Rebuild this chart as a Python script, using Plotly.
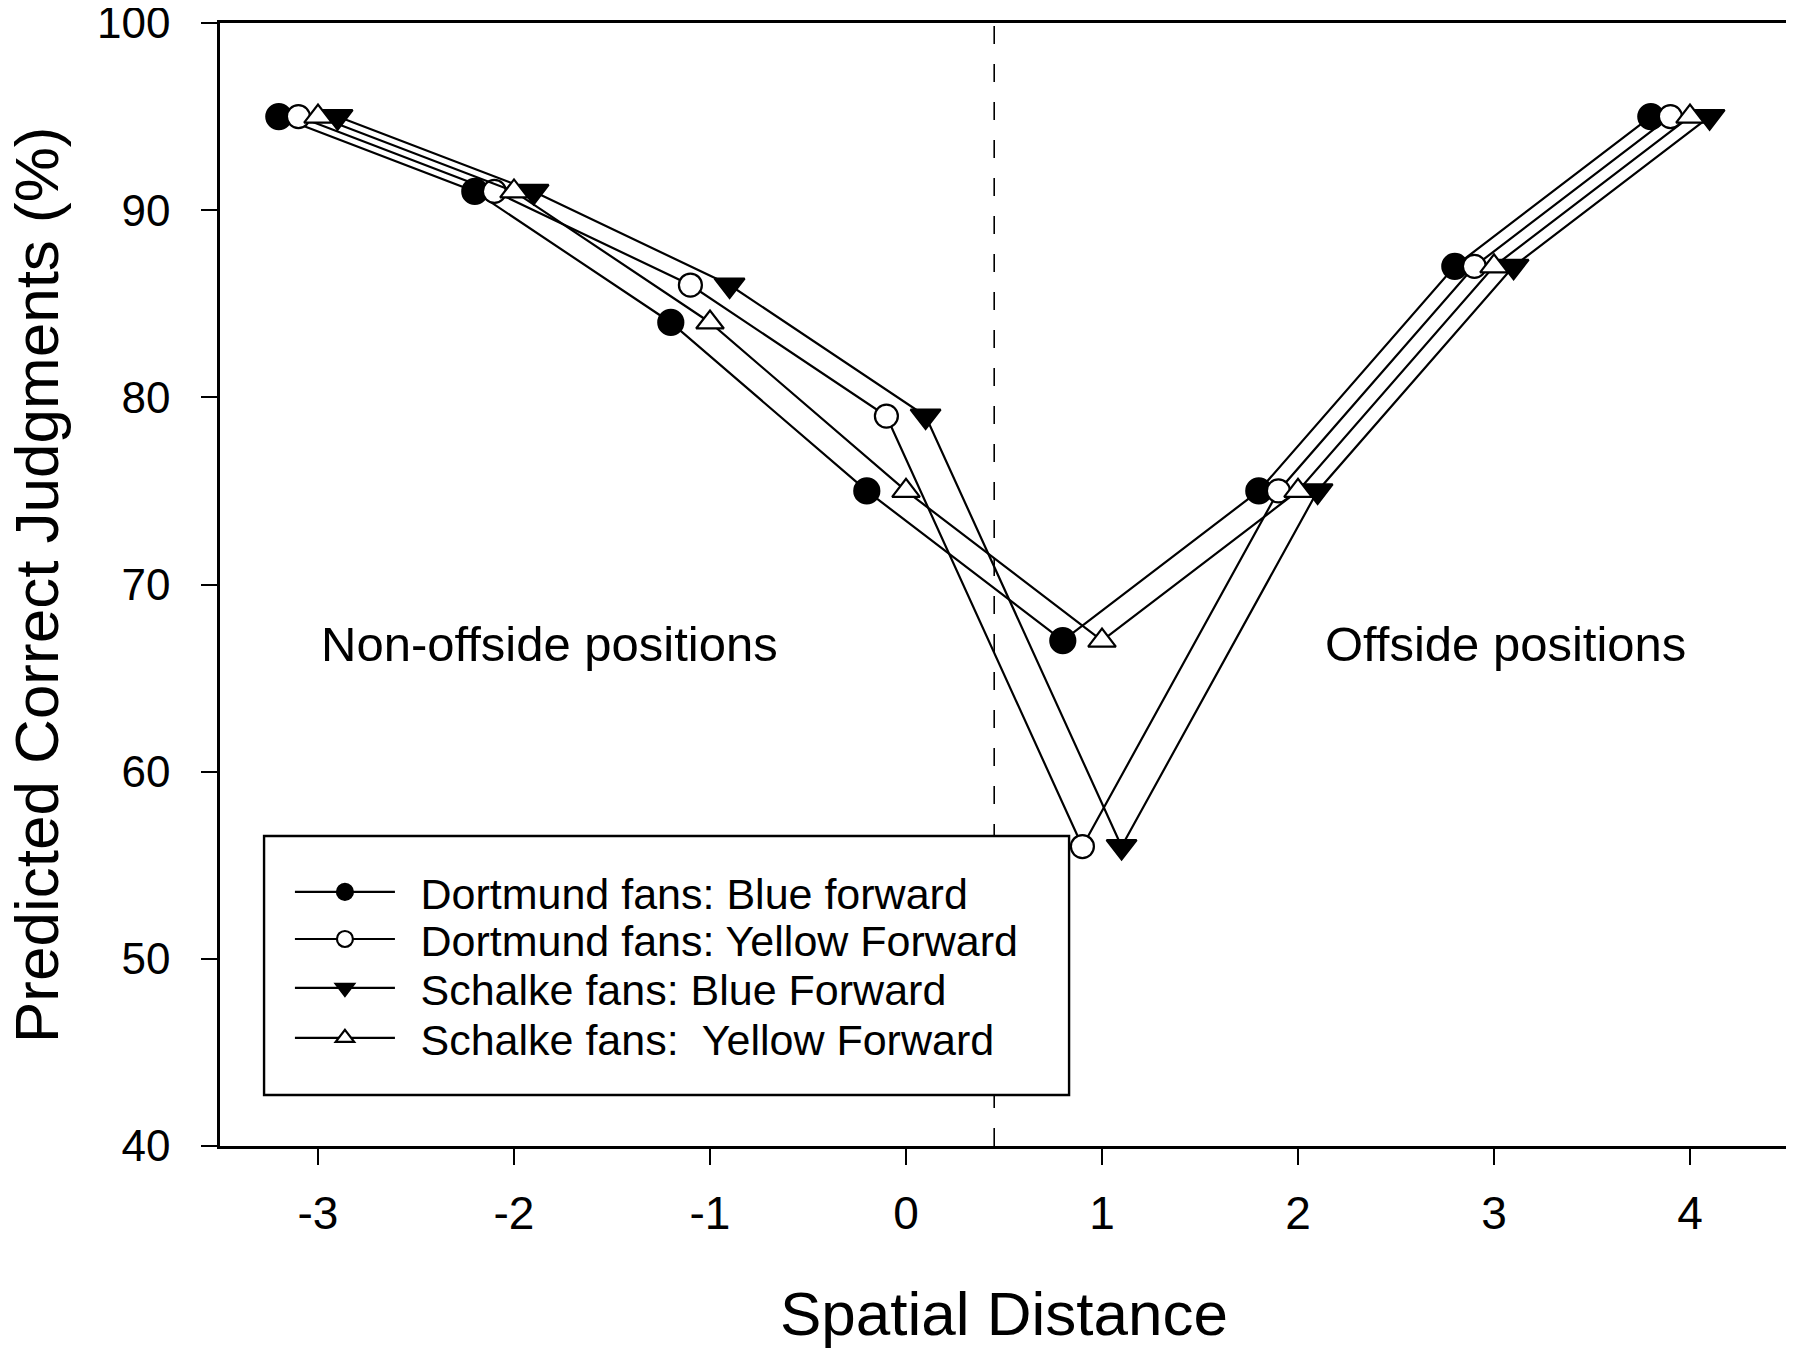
import plotly.graph_objects as go

# spatial distance positions (series are offset slightly so markers don't overlap)
dortmund_blue_x = [-3.2, -2.2, -1.2, -0.2, 0.8, 1.8, 2.8, 3.8]
dortmund_yellow_x = [-3.1, -2.1, -1.1, -0.1, 0.9, 1.9, 2.9, 3.9]
schalke_blue_x = [-2.9, -1.9, -0.9, 0.1, 1.1, 2.1, 3.1, 4.1]
schalke_yellow_x = [-3.0, -2.0, -1.0, 0.0, 1.0, 2.0, 3.0, 4.0]

# predicted correct judgments (%)
dortmund_blue_y = [95, 91, 84, 75, 67, 75, 87, 95]
dortmund_yellow_y = [95, 91, 86, 79, 56, 75, 87, 95]
schalke_blue_y = [95, 91, 86, 79, 56, 75, 87, 95]
schalke_yellow_y = [95, 91, 84, 75, 67, 75, 87, 95]

x_ticks = [-3, -2, -1, 0, 1, 2, 3, 4]
y_ticks = [40, 50, 60, 70, 80, 90, 100]
offside_line_x = 0.45

FONT = "Liberation Sans, Arial, sans-serif"

series = [
    ("Dortmund fans: Blue forward", dortmund_blue_x, dortmund_blue_y, "circle", "black", 25),
    ("Dortmund fans: Yellow Forward", dortmund_yellow_x, dortmund_yellow_y, "circle", "white", 23),
    ("Schalke fans: Blue Forward", schalke_blue_x, schalke_blue_y, "triangle-down", "black", 26),
    ("Schalke fans:  Yellow Forward", schalke_yellow_x, schalke_yellow_y, "triangle-up", "white", 24),
]

fig = go.Figure()

# one legend per row so the row spacing can follow the original
legend_names = ["legend", "legend2", "legend3", "legend4"]
for i, (name, xs, ys, sym, fill, size) in enumerate(series):
    fig.add_trace(go.Scatter(
        x=xs, y=ys, mode="lines+markers",
        name="\u00a0\u2009" + name.replace("  ", "\u00a0 "),
        line=dict(color="black", width=2.2),
        marker=dict(symbol=sym, size=size, color=fill,
                    line=dict(color="black", width=2.2)),
        legend=legend_names[i],
    ))

# dashed boundary between non-offside and offside positions
fig.add_shape(type="line", xref="x", yref="y", x0=offside_line_x, x1=offside_line_x,
              y0=40, y1=100, line=dict(color="black", width=1.6, dash="18px,20px"),
              layer="below")

# legend frame (white fill hides the dashed line)
fig.add_shape(type="rect", xref="paper", yref="paper", x0=0.0281, x1=0.5415,
              y0=0.0454, y1=0.2760, line=dict(color="black", width=2.4),
              fillcolor="white", layer="above")

fig.add_annotation(x=-1.82, y=66.8, text="Non-offside positions", showarrow=False,
                   font=dict(family=FONT, size=49, color="black"))
fig.add_annotation(x=3.06, y=66.8, text="Offside positions", showarrow=False,
                   font=dict(family=FONT, size=49, color="black"))

# y axis title as an annotation so it can sit closer to the page edge
fig.add_annotation(xref="paper", yref="paper", x=-0.117, y=0.5, xanchor="center",
                   yanchor="middle", textangle=-90, showarrow=False,
                   text="Predicted Correct Judgments (%)",
                   font=dict(family=FONT, size=62, color="black"))

row_y = [0.2262, 0.1843, 0.1407, 0.0962]
legend_layout = {}
for name, ry in zip(legend_names, row_y):
    legend_layout[name] = dict(
        x=0.0446, y=ry, xanchor="left", yanchor="middle",
        bgcolor="rgba(0,0,0,0)", borderwidth=0, itemwidth=100,
        font=dict(family=FONT, size=43, color="black"),
    )

# page body has an 8px margin, so the figure is a bit smaller than the window
fig.update_layout(
    width=1786, height=1340,
    margin=dict(l=212, r=6, t=15, b=202),
    plot_bgcolor="white", paper_bgcolor="white",
    font=dict(family=FONT, color="black"),
    showlegend=True,
    **legend_layout,
)

fig.update_xaxes(
    range=[-3.5, 4.5], tickvals=x_ticks, ticktext=[str(v) for v in x_ticks],
    ticks="outside", ticklen=16, tickwidth=2, tickcolor="black",
    showline=True, linewidth=2.6, linecolor="black", mirror=True,
    showgrid=False, zeroline=False, ticklabelstandoff=9,
    ticklabeloverflow="allow", automargin=False,
    tickfont=dict(family=FONT, size=46, color="black"),
    title=dict(text="Spatial Distance", standoff=55,
               font=dict(family=FONT, size=62, color="black")),
)
fig.update_yaxes(
    range=[40, 100], tickvals=y_ticks,
    ticks="outside", ticklen=16, tickwidth=2, tickcolor="black",
    showline=True, linewidth=2.6, linecolor="black", mirror=True,
    showgrid=False, zeroline=False, ticklabelstandoff=22,
    ticklabeloverflow="allow", automargin=False,
    tickfont=dict(family=FONT, size=44, color="black"),
)

fig.write_html("out.html")
